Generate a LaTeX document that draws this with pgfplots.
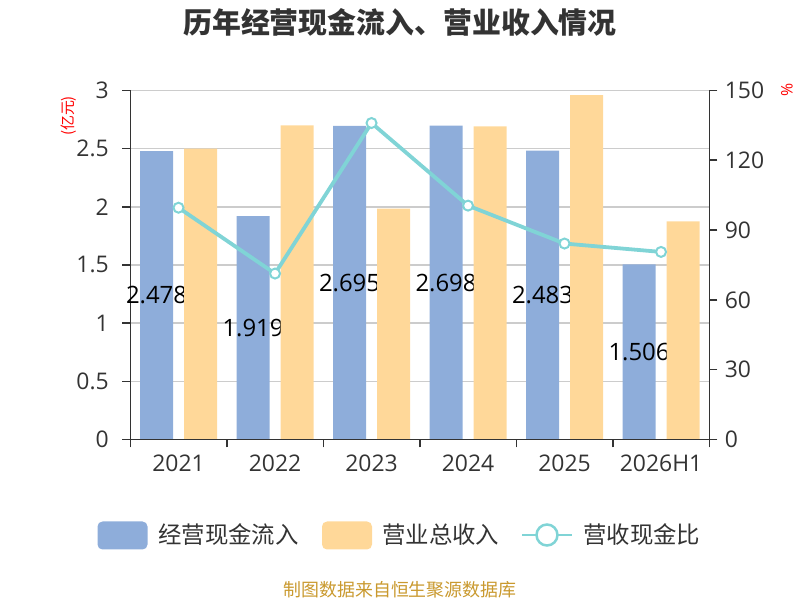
\documentclass[border=0pt]{standalone}
\usepackage{pgfplots}
\usepackage{pgfplotstable}
\pgfplotsset{compat=1.18}
\usepackage{fontspec}
\setmainfont{Noto Sans CJK SC}
\newfontfamily\numfont{Open Sans}
\definecolor{cblue}{HTML}{8EADDA}
\definecolor{corange}{HTML}{FFD899}
\definecolor{cline}{HTML}{80D4D6}
\definecolor{ctext}{HTML}{333333}
\definecolor{cgrid}{HTML}{CCCCCC}
\definecolor{csrc}{HTML}{C9992E}
\definecolor{cred}{HTML}{FF0000}

\pgfplotstableread{
x v lab
0 2.478 2.478
1 1.919 1.919
2 2.695 2.695
3 2.698 2.698
4 2.483 2.483
5 1.506 1.506
}\cash
\pgfplotstableread{
x v
0 2.500
1 2.700
2 1.985
3 2.692
4 2.960
5 1.875
}\rev
\pgfplotstableread{
x v
0 99.6
1 71.3
2 136.0
3 100.5
4 84.2
5 80.6
}\ratio

\pgfplotsset{
  base/.style={
    scale only axis, width=579bp, height=349bp,
    xmin=-0.5, xmax=5.5,
    axis line style={-, draw=ctext, line width=1.5bp},
    tick align=outside, major tick length=8bp,
    tick style={draw=ctext, line width=1.5bp},
    ticklabel style={font=\numfont\fontsize{23}{24}\selectfont, text=ctext},
    /pgf/number format/assume math mode=true,
    clip=false,
  }
}

\begin{document}
\begin{tikzpicture}[x=1bp,y=1bp]
\path (0,0) rectangle (800,600);
\node[font=\fontsize{29}{30}\selectfont\bfseries, text=ctext] at (400,577.5) {历年经营现金流入、营业收入情况};

\begin{axis}[base, name=main,
  at={(135,138)}, anchor=south west,
  ymin=0, ymax=3,
  axis x line*=bottom, axis y line*=left,
  xtick={-0.5,0.5,1.5,2.5,3.5,4.5,5.5},
  xticklabels={2021,2022,2023,2024,2025,2026H1},
  x tick label as interval,
  xticklabel style={yshift=-4bp},
  yticklabel style={xshift=-10bp},
  ytick={0,0.5,1,1.5,2,2.5,3},
  yticklabels={0,0.5,1,1.5,2,2.5,3},
  ymajorgrids, xmajorgrids=false,
  major grid style={draw=cgrid, line width=1.5bp},
]
\addplot[ybar, bar width=33bp, bar shift=-22bp, fill=cblue, draw=none,
  point meta=explicit symbolic,
  visualization depends on={\thisrow{v} \as \rawy},
  nodes near coords,
  every node near coord/.append style={anchor=center, font=\numfont\fontsize{24}{25}\selectfont, text=black,
    xshift=-22bp, shift={(axis direction cs:0,-\rawy/2)}},
] table[x=x, y=v, meta=lab] {\cash};
\end{axis}

\begin{axis}[base,
  at={(main.south west)}, anchor=south west,
  ymin=0, ymax=3, hide x axis, hide y axis,
]
\addplot[ybar, bar width=33bp, bar shift=22bp, fill=corange, draw=none] table[x=x, y=v] {\rev};
\end{axis}

\begin{axis}[base,
  at={(main.south west)}, anchor=south west,
  ymin=0, ymax=150,
  axis x line*=bottom, axis y line*=right,
  xtick=\empty,
  ytick={0,30,60,90,120,150},
  yticklabel style={xshift=4bp},
]
\addplot[cline, line width=3.8bp, mark=*, mark size=5bp,
  mark options={fill=white, draw=cline, line width=2bp}] table[x=x, y=v] {\ratio};
\end{axis}

\node[rotate=90, text=cred, font=\fontsize{15}{16}\selectfont] at (69,484) {(亿元)};
\node[rotate=90, text=cred, font=\numfont\fontsize{16}{17}\selectfont] at (787,510) {\%};

\fill[cblue, rounded corners=5bp] (97.5,50.5) rectangle (147.5,78.5);
\node[anchor=west, inner sep=0pt, text=ctext, font=\fontsize{23.5}{24}\selectfont] at (158,65) {经营现金流入};
\fill[corange, rounded corners=5bp] (322,50.5) rectangle (372,78.5);
\node[anchor=west, inner sep=0pt, text=ctext, font=\fontsize{23.5}{24}\selectfont] at (382,65) {营业总收入};
\draw[cline, line width=2.5bp] (522,65) -- (572,65);
\filldraw[fill=white, draw=cline, line width=2.5bp] (547,65) circle (10.5);
\node[anchor=west, inner sep=0pt, text=ctext, font=\fontsize{23.5}{24}\selectfont] at (583,65) {营收现金比};

\node[text=csrc, font=\fontsize{18}{19}\selectfont] at (400,10) {制图数据来自恒生聚源数据库};
\end{tikzpicture}
\end{document}
